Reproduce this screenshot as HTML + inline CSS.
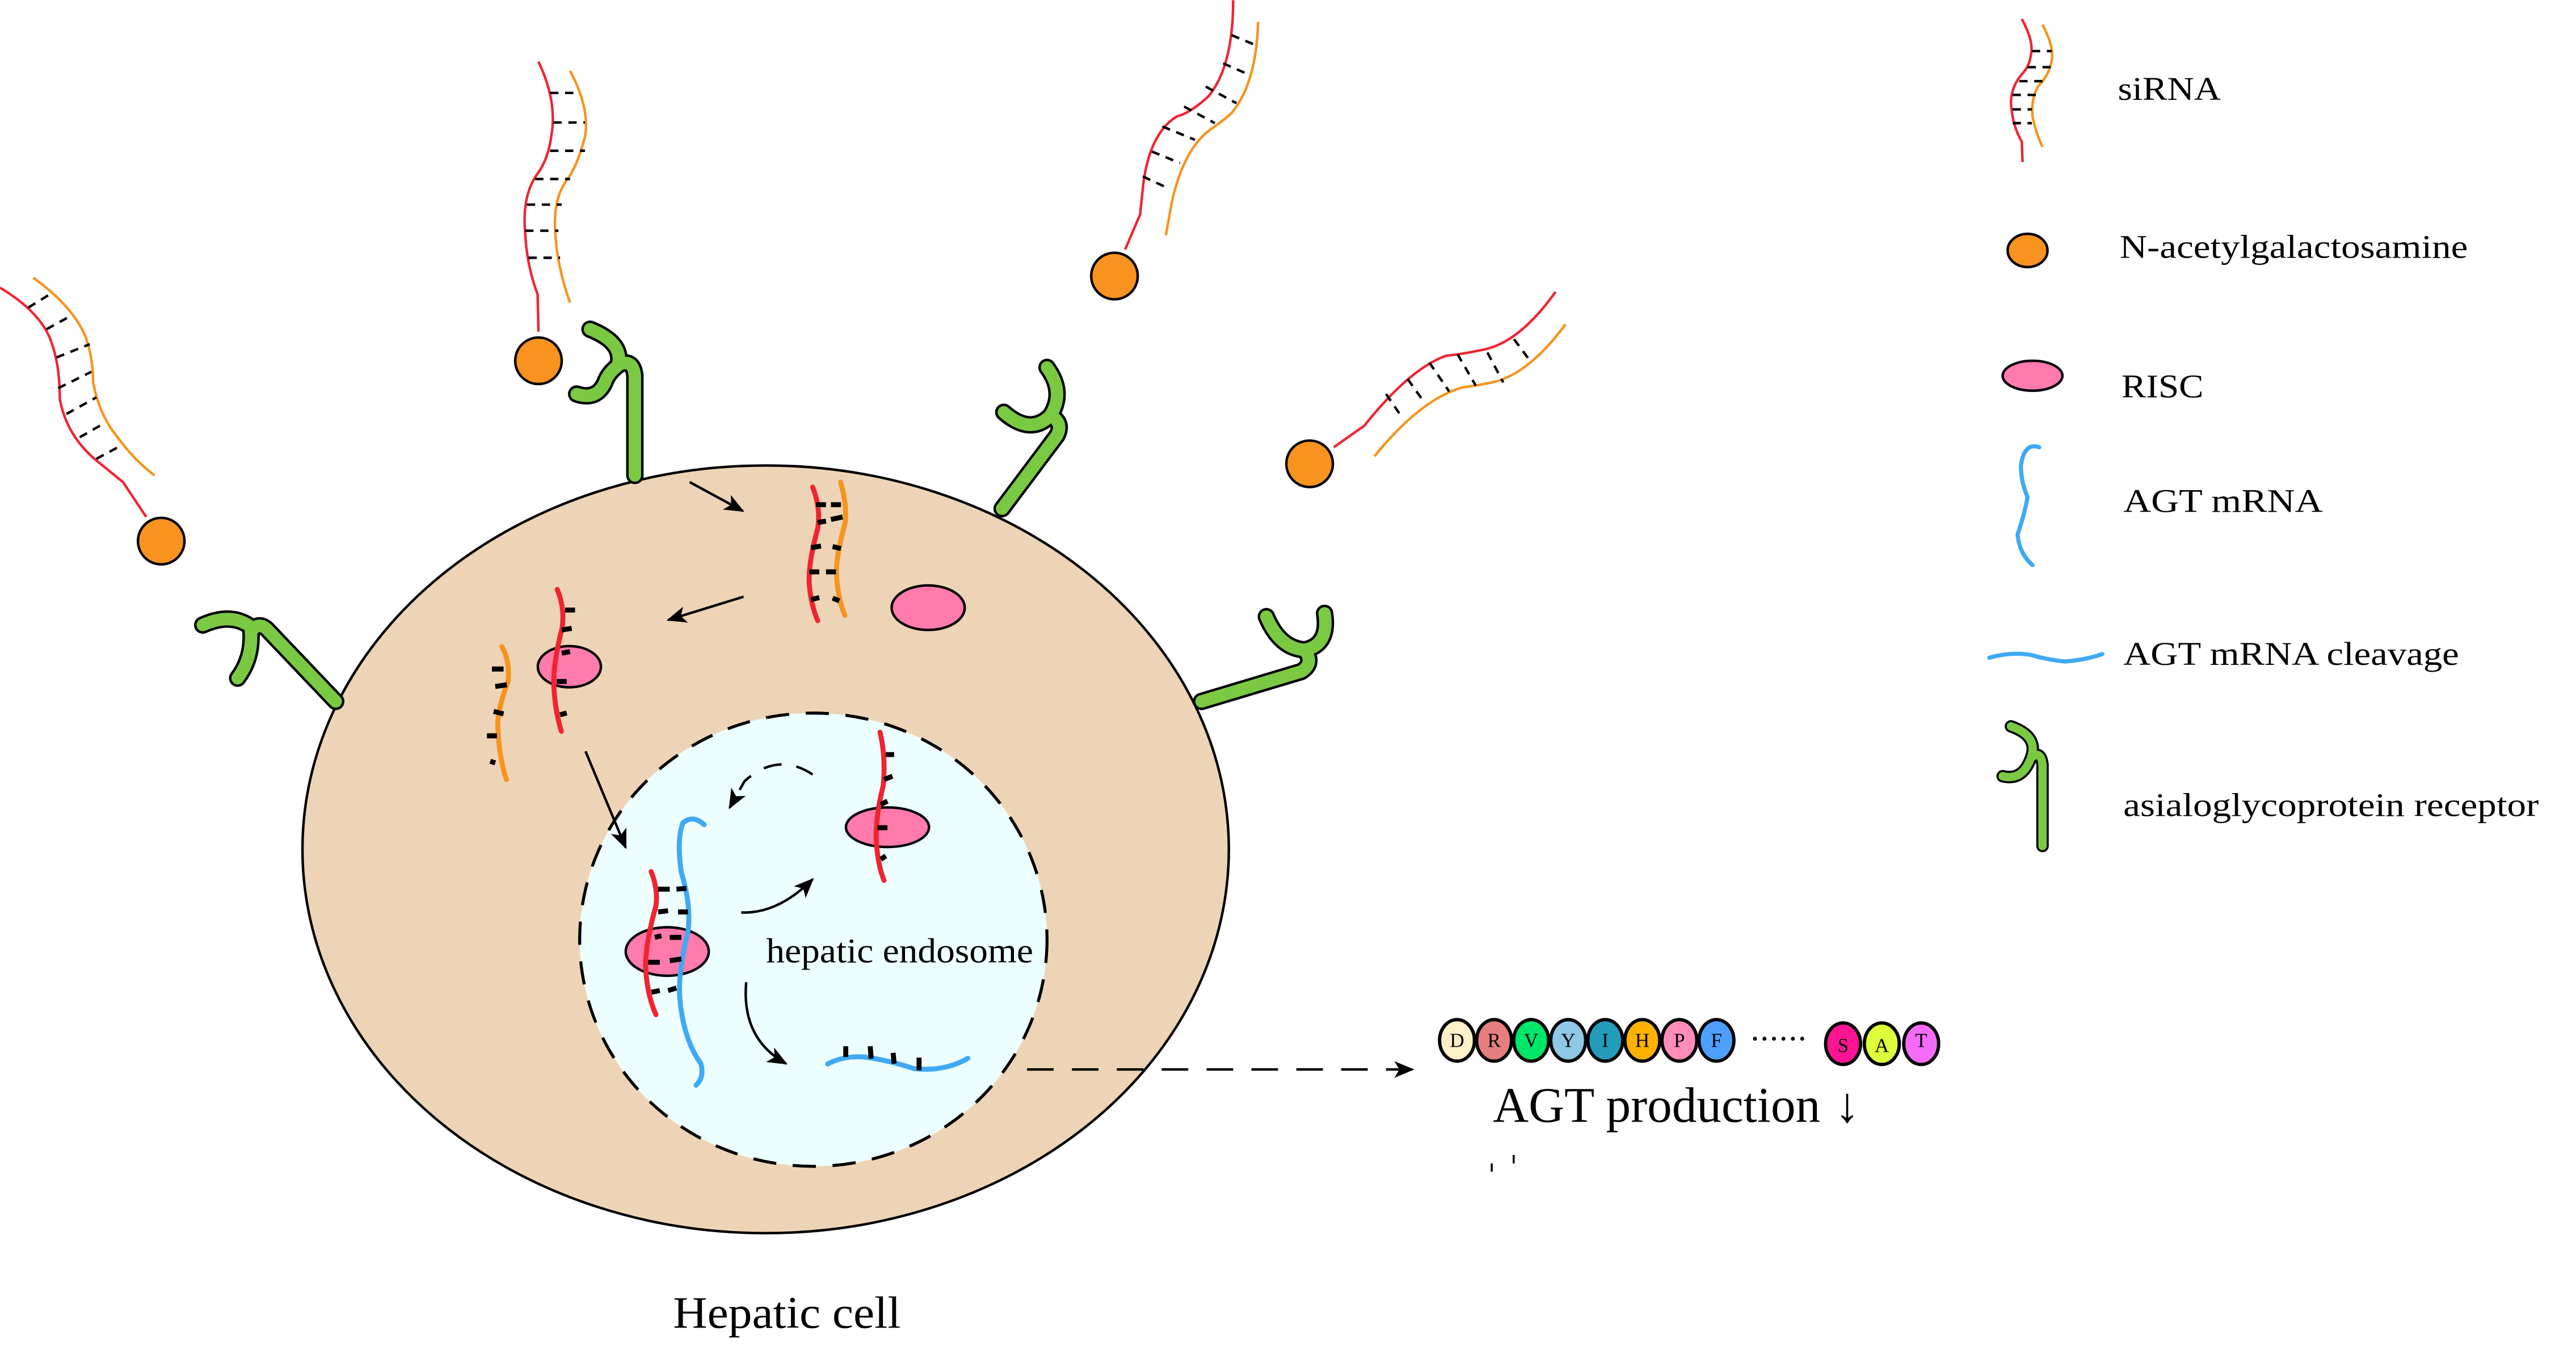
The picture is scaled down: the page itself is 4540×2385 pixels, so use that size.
<!DOCTYPE html>
<html><head><meta charset="utf-8"><style>
html,body{margin:0;padding:0;background:#fff}
svg{display:block}
text{font-family:"Liberation Serif",serif;fill:#000}
</style></head><body>
<svg width="4540" height="2385" viewBox="0 0 1550 814" xmlns="http://www.w3.org/2000/svg">
<defs>
<marker id="ah" viewBox="0 0 12 10" refX="11" refY="5" markerWidth="12" markerHeight="10" markerUnits="userSpaceOnUse" orient="auto">
<path d="M0,0 L12,5 L0,10 L3,5 Z" fill="#000"/>
</marker>
<path id="r1" d="M382,286 L382,226 Q381,216 373,219 Q366,224 364,230 Q359,241 347,237 M372,219 Q375,206 355,198"/>
<path id="r2" d="M603,306 L636,262 Q640,254 632,250 Q620,262 604,248 M632,250 Q641,236 630,221"/>
<path id="r3" d="M202,422 L162,380 Q156,373 151,380 Q152,396 143,408 M152,378 Q140,368 122,376"/>
<path id="r4" d="M723,422 L783,404 Q791,399 785,391 Q770,390 762,371 M785,391 Q800,388 797,369"/>
<path id="r5" d="M1229,509 L1229,460 Q1228,451 1222,456 Q1217,470 1205,467 M1222,456 Q1227,443 1210,437"/>
</defs>

<!-- cell -->
<ellipse cx="460.7" cy="511" rx="278.7" ry="231" fill="#EED4B6" stroke="#000" stroke-width="1.5"/>
<!-- endosome -->
<ellipse cx="489.4" cy="565.4" rx="140.6" ry="136.4" fill="#EDFEFE" stroke="#000" stroke-width="1.8" stroke-dasharray="14 10"/>

<!-- receptors -->
<g fill="none" stroke-linecap="round" stroke-linejoin="round">
<g stroke="#000" stroke-width="10.5">
<use href="#r1"/><use href="#r2"/><use href="#r3"/><use href="#r4"/>
</g>
<g stroke="#7AC943" stroke-width="7.5">
<use href="#r1"/><use href="#r2"/><use href="#r3"/><use href="#r4"/>
</g>
<use href="#r5" stroke="#000" stroke-width="7.5"/>
<use href="#r5" stroke="#7AC943" stroke-width="5"/>
</g>

<!-- outside siRNAs -->
<g fill="none" stroke-width="1.5">
<path d="M0,173 Q25,188 31,206 Q36,220 36,240 Q40,262 58,277 L74,290 L88,311" stroke="#F02430"/>
<path d="M20,167 Q45,185 52,204 Q56,216 56,230 Q60,250 70,262 Q80,276 93,286" stroke="#F7931E"/>
<path d="M324,37 Q335,60 332,80 Q330,96 323,105 Q314,118 316,140 Q317,160 323.5,177 L324,199.5" stroke="#F02430"/>
<path d="M343,42.5 Q355,65 352,82 Q348,98 342,107 Q333,118 334,138 Q335,160 343,182" stroke="#F7931E"/>
<path d="M742,0 Q742,40 727,58 Q716,68 708,70 Q692,80 688,110 L686,129 L677,150" stroke="#F02430"/>
<path d="M757,13 Q756,50 741,68 Q734,74 728,78 Q712,90 705,122 L701.5,141.5" stroke="#F7931E"/>
<path d="M936,175.5 Q915,205 894,210 Q880,213 870,214 Q848,222 821,256 L802.6,269" stroke="#F02430"/>
<path d="M942,195 Q920,225 898,230 Q888,232 880,233 Q855,240 827,274.5" stroke="#F7931E"/>
<path d="M1216.5,11.3 Q1224,25 1222,33 Q1221,40 1217,44 Q1210,52 1210,62 Q1211,76 1216.5,85 L1217,97.4" stroke="#F02430"/>
<path d="M1229,14.7 Q1236,28 1234.6,36 Q1233,45 1227,51 Q1222,58 1223,70 Q1225,80 1229,88.3" stroke="#F7931E"/>
</g>
<g stroke="#000" stroke-width="1.5" stroke-dasharray="5 4" fill="none">
<path d="M17,185 L30,177 M28,198 L42.5,190 M34,215 L54,207 M35,233.5 L55,223.6 M40,249 L58,239 M48,263 L62,255 M58,276 L71,269"/>
<path d="M331,55.8 L348,55.8 M333,73.6 L352,73.6 M331,90.6 L352,90.6 M322,107.6 L343,107.6 M317,123 L338,123 M316,138.7 L336,138.7 M318,155 L337,155"/>
<path d="M741,21 L755.5,27 M736,38 L752,45 M725.5,52 L744,62 M712.5,64 L731,74 M699.4,76 L719,84 M693,91 L710,98 M687.6,106 L702.5,113"/>
<path d="M911,204 L921.4,218 M895,212 L904.5,230 M877,213 L888,232 M860,218 L872,235.5 M847,228 L857,242 M834,237 L843.6,251"/>
<path d="M1222.6,30.6 L1234.6,30.6 M1220,40.3 L1234,40.3 M1215,48.7 L1229.4,48.7 M1211,57 L1225,57 M1211,65.7 L1222.6,65.7 M1211,74 L1222.6,74"/>
</g>

<!-- GalNAc balls -->
<g fill="#F7931E" stroke="#000" stroke-width="1.5">
<circle cx="97" cy="325.5" r="14"/>
<circle cx="324" cy="217" r="14"/>
<circle cx="670.6" cy="166" r="14"/>
<circle cx="788" cy="279" r="14"/>
<ellipse cx="1220" cy="150.6" rx="12" ry="10"/>
</g>

<!-- RISC -->
<g fill="#FF7BAC" stroke="#000" stroke-width="1.5">
<ellipse cx="558.5" cy="365.6" rx="22" ry="13.4"/>
<ellipse cx="342.6" cy="401.1" rx="19" ry="12.4"/>
<ellipse cx="534" cy="497.7" rx="25" ry="11.9"/>
<ellipse cx="401.5" cy="572.5" rx="25" ry="14.6"/>
<ellipse cx="1223" cy="226" rx="18" ry="9"/>
</g>

<!-- inner strands -->
<g fill="none" stroke-width="3" stroke-linecap="round">
<path d="M489,293 Q494,306 492,318 Q486,340 487,352 Q488,364 492,373.4" stroke="#F02430"/>
<path d="M505.8,290 Q510,305 508.4,315 Q503,335 503.3,345 Q504,360 508.4,370.3" stroke="#F7931E"/>
<path d="M335.3,354.6 Q340,366 338.2,378 Q333,398 333.2,412 Q334,428 337.8,440" stroke="#F02430"/>
<path d="M302,389 Q307,398 305.7,410 Q300,425 299.5,435 Q300,455 304.7,469" stroke="#F7931E"/>
<path d="M529.5,440.5 Q533,455 531.5,472.5 Q527,490 527.2,505 Q528,520 531.9,529.7" stroke="#F02430"/>
<path d="M391.8,524.4 Q396,535 394.7,545 Q389,565 388.4,580 Q389,598 394.7,610.5" stroke="#F02430"/>
<path d="M423.7,496.2 Q417,490 411,495 Q407,505 410,525 Q416,545 414,560 Q408,585 409,600 Q411,625 421.7,640 Q424,648 418.8,653" stroke="#3FA9F5"/>
<path d="M498,640.2 Q508,635 520,636 Q535,638 550,643 Q568,645 582.4,636.8" stroke="#3FA9F5"/>
<path d="M1227,269 Q1218,266 1216,280 Q1216,290 1220,299 Q1218,310 1214,321.5 Q1215,333 1223,340" stroke="#3FA9F5" stroke-width="2.5"/>
<path d="M1197,395.7 Q1210,392 1222,394 Q1232,397 1242.5,398 Q1255,397 1265,393.5" stroke="#3FA9F5" stroke-width="2.5"/>
</g>
<!-- thick rungs -->
<g stroke="#000" stroke-width="3" stroke-linecap="butt" fill="none">
<path d="M491,303.6 L497,303.6 M500,303.6 L506,303.6 M492,314.3 L497,313.5 M500,312.5 L507,311 M488,329.5 L494,328.5 M501,328.8 L506,330 M487,344 L493,344 M497,344 L503,344 M488,360.7 L493,359.5 M501,359.8 L505,361.5"/>
<path d="M340,367 L346,367 M338,379 L344,378 M338,393 L343,392 M335,410 L341,410 M337,430 L341,429"/>
<path d="M296,402.5 L303,402.5 M298,413 L305,412 M297,428 L303,429.5 M293,442.7 L299,442.7 M295,458 L298,459"/>
<path d="M533,454 L538,454 M532,469 L537,467 M530,484 L534,482 M528,498 L534,498 M530,517 L533,515"/>
<path d="M396,535 L403,535 M407,535 L413,534.5 M396,548.7 L402,548 M408,548.7 L414,548.7 M394,564 L398,563 M403,564 L410,564 M390,579 L397,579 M403,578 L410,577 M392,597 L397,596 M402,596 L407,594.5"/>
<path d="M508.9,629.5 L508.9,636 M523.6,629.5 L524.2,637 M537.4,633.5 L538,640 M553,636.4 L553,644"/>
</g>

<!-- arrows -->
<g fill="none" stroke="#000" stroke-width="1.5">
<path d="M415,290 L447,307.4" marker-end="url(#ah)"/>
<path d="M447.4,359 L402,373" marker-end="url(#ah)"/>
<path d="M352.3,452 L376.5,510" marker-end="url(#ah)"/>
<path d="M489,466 Q468,452 448,470 L439,486" stroke-dasharray="11 9" marker-end="url(#ah)"/>
<path d="M446,549 Q468,550 489,529" marker-end="url(#ah)"/>
<path d="M449,591 Q446,625 473,640" marker-end="url(#ah)"/>
<path d="M618,643.5 L850,643.5" stroke-dasharray="16 11" marker-end="url(#ah)"/>
</g>

<!-- peptide chain -->
<g stroke="#000" stroke-width="2" font-size="12">
<ellipse cx="876.7" cy="626" rx="10.5" ry="12.5" fill="#FBF0C8"/>
<ellipse cx="899" cy="626" rx="10.5" ry="12.5" fill="#E57F7F"/>
<ellipse cx="921.3" cy="626" rx="10.5" ry="12.5" fill="#00E66A"/>
<ellipse cx="943.6" cy="626" rx="10.5" ry="12.5" fill="#8EC8E6"/>
<ellipse cx="965.9" cy="626" rx="10.5" ry="12.5" fill="#239CBB"/>
<ellipse cx="988.2" cy="626" rx="10.5" ry="12.5" fill="#FFB300"/>
<ellipse cx="1010.5" cy="626" rx="10.5" ry="12.5" fill="#FF8DB8"/>
<ellipse cx="1032.8" cy="626" rx="10.5" ry="12.5" fill="#4DA0FF"/>
<ellipse cx="1109" cy="628" rx="10.5" ry="12.5" fill="#FF1493"/>
<ellipse cx="1132.3" cy="628" rx="10.5" ry="12.5" fill="#DDFF3A"/>
<ellipse cx="1156" cy="628" rx="10.5" ry="12.5" fill="#F56BF7"/>
</g>
<g font-size="12" text-anchor="middle" style="font-family:'Liberation Serif',serif">
<text x="876.7" y="630">D</text><text x="899" y="630">R</text><text x="921.3" y="630">V</text><text x="943.6" y="630">Y</text><text x="965.9" y="630">I</text><text x="988.2" y="630">H</text><text x="1010.5" y="630">P</text><text x="1032.8" y="630">F</text>
<text x="1109" y="633">S</text><text x="1132.3" y="633">A</text><text x="1156" y="630">T</text>
</g>
<g fill="#000"><circle cx="1056" cy="625" r="1.2"/><circle cx="1061.7" cy="625" r="1.2"/><circle cx="1067.4" cy="625" r="1.2"/><circle cx="1073.1" cy="625" r="1.2"/><circle cx="1078.8" cy="625" r="1.2"/><circle cx="1084.4" cy="625" r="1.2"/></g>
<g stroke="#000" stroke-width="1.2"><path d="M897.6,700 L897.6,705 M910.8,695 L910.8,700"/></g>

<!-- texts -->
<text x="898.3" y="675" font-size="30" textLength="197" lengthAdjust="spacingAndGlyphs">AGT production</text>
<text x="1104" y="675" font-size="30">↓</text>
<text x="461" y="579" font-size="21" textLength="160.7" lengthAdjust="spacingAndGlyphs">hepatic endosome</text>
<text x="405" y="799" font-size="27" textLength="137" lengthAdjust="spacingAndGlyphs">Hepatic cell</text>
<g font-size="20">
<text x="1274.3" y="60" textLength="62" lengthAdjust="spacingAndGlyphs">siRNA</text>
<text x="1275.4" y="155" textLength="209.5" lengthAdjust="spacingAndGlyphs">N-acetylgalactosamine</text>
<text x="1276.5" y="239" textLength="49.4" lengthAdjust="spacingAndGlyphs">RISC</text>
<text x="1277.6" y="308" textLength="120" lengthAdjust="spacingAndGlyphs">AGT mRNA</text>
<text x="1277.6" y="400" textLength="202" lengthAdjust="spacingAndGlyphs">AGT mRNA cleavage</text>
<text x="1277.6" y="491" textLength="250" lengthAdjust="spacingAndGlyphs">asialoglycoprotein receptor</text>
</g>
</svg>
</body></html>
